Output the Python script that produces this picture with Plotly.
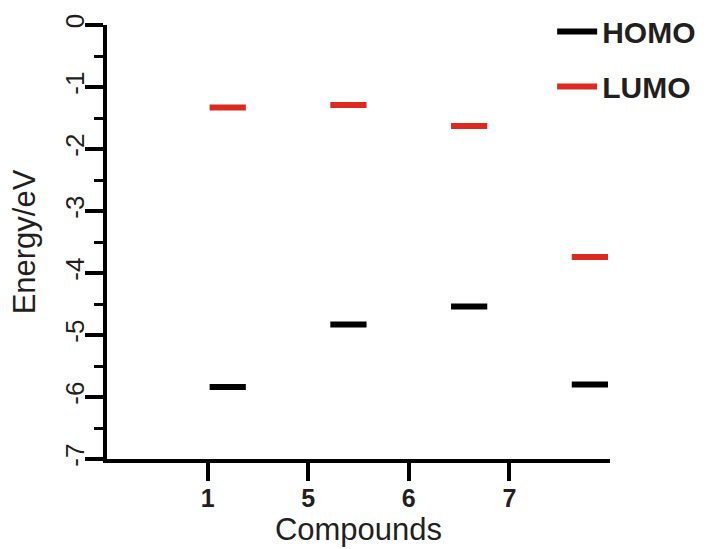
import plotly.graph_objects as go

# Frontier orbital energies (eV) for each compound
compounds = ["1", "5", "6", "7"]
tick_pos = [1, 2, 3, 4]
level_x = [1.2, 2.4, 3.6, 4.8]
homo = [-5.84, -4.83, -4.54, -5.80]
lumo = [-1.33, -1.29, -1.63, -3.74]

energy_ticks = [0, -1, -2, -3, -4, -5, -6, -7]
energy_labels = ["0", "-1", "-2", "-3", "-4", "-5", "-6", "-7"]

HALF = 0.18  # half length of each energy-level bar (x units)
FONT = "Liberation Sans, Arial, sans-serif"
INK = "#231f20"
RED = "#dd2a20"


def bars(xs, ys):
    px, py = [], []
    for x, y in zip(xs, ys):
        px += [x - HALF, x + HALF, None]
        py += [y, y, None]
    return px, py


fig = go.Figure()
for name, vals, color in [("HOMO", homo, "black"), ("LUMO", lumo, RED)]:
    bx, by = bars(level_x, vals)
    fig.add_trace(go.Scatter(
        x=bx, y=by, mode="lines", name=name, legendgroup=name,
        line=dict(color=color, width=6), hoverinfo="skip",
    ))

fig.update_layout(
    width=708, height=549,
    margin=dict(l=107, r=98, t=25, b=90, autoexpand=False),
    paper_bgcolor="white", plot_bgcolor="white",
    font=dict(family=FONT, color=INK),
    showlegend=True,
    legend=dict(
        x=0.885, y=1.045, xanchor="left", yanchor="top",
        bgcolor="rgba(0,0,0,0)", borderwidth=0,
        font=dict(size=30, family=FONT, color=INK, weight="bold"),
        tracegroupgap=13, itemwidth=40,
    ),
    xaxis=dict(
        range=[0, 5], tickvals=tick_pos, ticktext=compounds,
        showline=True, linecolor="black", linewidth=4,
        ticks="outside", ticklen=18, tickwidth=4, tickcolor="black",
        tickfont=dict(size=25, weight="bold", color=INK),
        ticklabelstandoff=-4,
        showgrid=False, zeroline=False, automargin=False,
        title=dict(text="Compounds", font=dict(size=31, color=INK), standoff=0),
    ),
    yaxis=dict(
        range=[-7, 0], tickvals=energy_ticks, ticktext=energy_labels,
        showline=True, linecolor="black", linewidth=4,
        ticks="outside", ticklen=18, tickwidth=4, tickcolor="black",
        tickangle=-90, tickfont=dict(size=26, color=INK),
        ticklabelstandoff=-9,
        minor=dict(dtick=0.5, tick0=0, ticks="outside", ticklen=9, tickwidth=3,
                   tickcolor="black"),
        showgrid=False, zeroline=False, automargin=False,
        title=dict(text="Energy/eV", font=dict(size=31, color=INK), standoff=16),
    ),
)

fig.write_html("out.html")
